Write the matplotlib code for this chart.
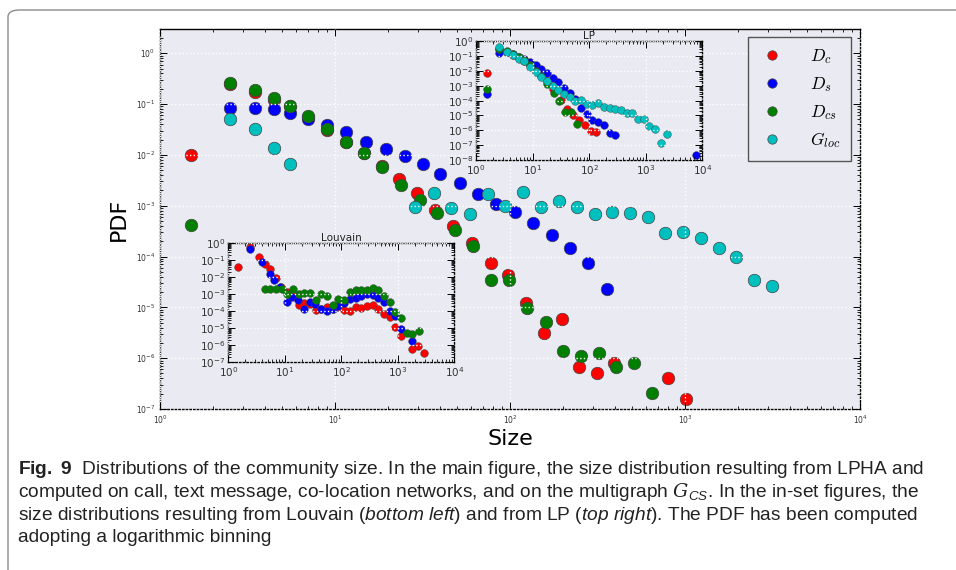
import matplotlib
matplotlib.use("Agg")
import matplotlib.pyplot as plt
from matplotlib.patches import FancyBboxPatch
from matplotlib.ticker import LogLocator

plt.rcParams['mathtext.fontset'] = 'custom'
plt.rcParams['mathtext.rm'] = 'Liberation Sans'
plt.rcParams['mathtext.it'] = 'Liberation Sans:italic'
plt.rcParams['mathtext.bf'] = 'Liberation Sans:bold'
plt.rcParams['mathtext.cal'] = 'DejaVu Serif:italic'

BG = '#eaeaf2'
COLORS = {'c': '#ff0000', 's': '#0000ff', 'cs': '#007f00', 'loc': '#00bfbf'}

# ---- main figure (LPHA) ----
main_c_x = [1.5, 2.5, 3.5, 4.5, 5.5, 7.0, 9.0, 11.6, 14.6, 18.6, 23.3, 29.6, 37.4, 47.4, 60.6,
            77.6, 97, 123, 156, 197, 249, 313, 395, 795, 1008]
main_c_y = [0.0098, 0.25, 0.17, 0.12, 0.09, 0.055, 0.031, 0.018, 0.011, 0.0061, 0.0033, 0.0018,
            0.00083, 0.00039, 1.85e-4, 7.4e-5, 4.4e-5, 1.2e-5, 3.1e-6, 5.8e-6, 6.6e-7, 5.2e-7,
            8.2e-7, 4.1e-7, 1.6e-7]

main_s_x = [2.5, 3.5, 4.5, 5.5, 7.0, 9.0, 11.6, 15, 19.5, 25, 31.8, 40, 51.8, 65.6, 83, 107,
            136, 173, 220, 280, 357]
main_s_y = [0.082, 0.083, 0.079, 0.068, 0.052, 0.038, 0.028, 0.018, 0.013, 0.0094, 0.0067,
            0.0043, 0.0028, 0.0017, 0.0011, 0.00074, 0.00045, 0.00026, 0.00015, 7.6e-5, 2.3e-5]

main_cs_x = [1.5, 2.5, 3.5, 4.5, 5.5, 7.0, 9.0, 11.6, 14.6, 18.6, 23.7, 30.6, 38.4, 48.5, 61.7,
             77.6, 99, 125, 160, 201, 255, 321, 405, 513, 646]
main_cs_y = [4.2e-4, 0.26, 0.19, 0.13, 0.091, 0.057, 0.033, 0.018, 0.011, 0.0059, 0.0026, 0.0013,
             0.00071, 0.00033, 1.6e-4, 3.4e-5, 3.5e-5, 9.5e-6, 5.2e-6, 1.38e-6, 1.1e-6, 1.26e-6,
             6.8e-7, 8.0e-7, 2.1e-7]

main_loc_x = [2.5, 3.5, 4.5, 5.5, 28.6, 36.6, 46, 59, 74.6, 94, 119, 150, 190, 240, 305, 384,
              485, 612, 772, 975, 1230, 1560, 1965, 2480, 3130]
main_loc_y = [0.052, 0.033, 0.0134, 0.0065, 0.00093, 0.0018, 0.00089, 0.00069, 0.0017, 0.001,
              0.0019, 0.00093, 0.00126, 0.00093, 0.00069, 0.00076, 0.00073, 0.0006, 0.00029,
              0.0003, 0.00023, 0.000144, 1.0e-4, 3.4e-5, 2.6e-5]

# ---- Louvain inset ----
lv_c_x = [1.48, 2.45, 3.49, 4.46, 5.46, 6.98, 8.4, 10.9, 14, 17.6, 22, 27.5, 35, 43.7, 55.7, 70,
          88.5, 111, 140, 180, 226, 285, 359, 452, 569, 716, 903, 1137, 1806, 2275, 2905]
lv_c_y = [0.042, 0.58, 0.15, 0.063, 0.031, 0.0095, 0.0028, 0.0014, 0.001, 2.3e-4, 3.0e-4, 2.6e-4,
          1.2e-4, 1.35e-4, 1.85e-4, 1.4e-4, 1.85e-4, 1.2e-4, 1.07e-4, 1.85e-4, 1.55e-4, 2.1e-4,
          2.3e-4, 1.4e-4, 7.1e-5, 4.4e-5, 1.2e-5, 3.5e-6, 5.6e-7, 8.9e-7, 3.4e-7]

lv_s_x = [2.45, 3.94, 5.4, 6.5, 8.3, 10.8, 13.4, 17.1, 22, 27.5, 34.7, 44, 55.7, 70, 88.5, 111,
          140, 180, 226, 285, 359, 452, 569, 716, 903, 1137, 1806]
lv_s_y = [0.44, 0.083, 0.015, 0.0069, 0.0028, 3.6e-4, 7.2e-4, 4.4e-4, 1.4e-4, 3.6e-4, 2.5e-4,
          1.35e-4, 1.07e-4, 1.35e-4, 1.95e-4, 3.2e-4, 5.0e-4, 6.3e-4, 7.5e-4, 1.0e-3, 9.0e-4,
          6.3e-4, 3.5e-4, 9.8e-5, 5.5e-5, 8.5e-6, 1.75e-6]

lv_cs_x = [4.46, 5.46, 6.98, 8.8, 10.9, 14, 17.6, 22, 27.8, 35, 44, 55.7, 70, 89, 111, 140, 180,
           226, 285, 359, 452, 569, 716, 903, 1137, 1453, 1818, 2340]
lv_cs_y = [1.95e-3, 1.95e-3, 1.95e-3, 1.95e-3, 1.0e-3, 1.95e-3, 1.0e-3, 1.23e-3, 1.2e-3, 4.6e-4,
           1.0e-3, 7.5e-4, 2.3e-4, 5.2e-4, 4.6e-4, 1.35e-3, 1.8e-3, 1.7e-3, 1.8e-3, 2.2e-3, 1.8e-3,
           7.9e-4, 3.6e-4, 8.5e-5, 4.2e-5, 5.4e-6, 4.3e-6, 7.1e-6]

# ---- LP inset ----
lp_c_x = [1.54, 2.5, 3.5, 4.5, 5.7, 7.1, 9.0, 11.3, 14.3, 18, 23, 32, 40.6, 52.5, 66, 83, 106, 134]
lp_c_y = [0.0077, 0.30, 0.2, 0.12, 0.08, 0.045, 0.025, 0.012, 0.005, 0.002, 0.0006, 1.1e-4,
          2.9e-5, 1.07e-5, 5.0e-6, 2.4e-6, 9.5e-7, 7.4e-7]

lp_s_x = [1.54, 2.5, 3.5, 4.5, 5.7, 7.1, 9.0, 11.3, 14.3, 18, 22.6, 28.5, 36, 45, 57, 72, 90,
          114, 143, 180, 230, 290, 7620]
lp_s_y = [2.7e-4, 0.17, 0.19, 0.13, 0.09, 0.068, 0.038, 0.025, 0.0135, 0.0069, 0.0035, 0.0017,
          7.1e-4, 3.1e-4, 1.3e-4, 3.2e-5, 1.2e-5, 5.2e-6, 3.8e-6, 2.3e-6, 6.3e-7, 4.9e-7, 2.3e-8]

lp_cs_x = [1.54, 2.5, 3.5, 4.5, 5.7, 7.1, 9.0, 11.3, 14.3, 18, 23.9, 29.7, 37.9, 48.4, 60.2]
lp_cs_y = [6.1e-4, 0.29, 0.22, 0.14, 0.09, 0.055, 0.025, 0.01, 0.0045, 0.0014, 3.3e-4, 9.1e-5,
           1.8e-5, 1.6e-5, 2.8e-6]

lp_loc_x = [2.5, 3.5, 4.5, 5.7, 7.1, 9.0, 11.3, 14.3, 18, 22.6, 28.5, 36, 45, 57, 72, 90, 114,
            143, 180, 230, 290, 365, 460, 580, 730, 920, 1156, 1457, 1835, 2340]
lp_loc_y = [0.44, 0.2, 0.126, 0.068, 0.045, 0.019, 0.009, 0.0042, 0.002, 0.001, 5.5e-4, 2.7e-4,
            1.7e-4, 9.5e-5, 1.1e-4, 6.3e-5, 4.9e-5, 6.9e-5, 3.7e-5, 3.2e-5, 2.9e-5, 2.2e-5,
            1.55e-5, 1.55e-5, 6.1e-6, 6.1e-6, 1.95e-6, 1.17e-6, 1.5e-7, 6.0e-7]

labels = [r'$D_c$', r'$D_s$', r'$D_{cs}$', r'$G_{loc}$']


def style_axes(ax, labelsize, dotted_top=True):
    ax.set_facecolor(BG)
    ax.set_xscale('log')
    ax.set_yscale('log')
    ax.set_axisbelow(False)
    ax.grid(True, which='major', color='white', linestyle=':', linewidth=1.0)
    ax.tick_params(which='both', direction='in', top=True, right=True, colors='black',
                   labelcolor='#333333', labelsize=labelsize)
    ax.tick_params(which='major', length=5, width=0.7)
    ax.tick_params(which='minor', length=2.5, width=0.6)
    for a in (ax.xaxis, ax.yaxis):
        a.set_major_locator(LogLocator(base=10, numticks=20))
        a.set_minor_locator(LogLocator(base=10, subs=range(2, 10), numticks=20))
    for name, sp in ax.spines.items():
        sp.set_color('black')
        sp.set_linewidth(1.0)
        if dotted_top or name != 'top':
            sp.set_linestyle(':')


fig = plt.figure(figsize=(9.56, 5.70), dpi=100)

# caption box border
fig.patches.append(FancyBboxPatch((8 / 956, -0.05), 1.05, 1 - 10 / 570 + 0.05,
                                  boxstyle='round,pad=0,rounding_size=0.012',
                                  transform=fig.transFigure, facecolor='white',
                                  edgecolor='#8a8a8a', linewidth=1.0, zorder=-5))

ax = fig.add_axes([160 / 956, 1 - 409 / 570, 700 / 956, 380 / 570])
style_axes(ax, 5.5, dotted_top=False)
ms = 9.0
for xs, ys, key, lab in [(main_c_x, main_c_y, 'c', labels[0]), (main_s_x, main_s_y, 's', labels[1]),
                         (main_cs_x, main_cs_y, 'cs', labels[2]), (main_loc_x, main_loc_y, 'loc', labels[3])]:
    ax.plot(xs, ys, 'o', color=COLORS[key], markersize=ms, markeredgecolor='#444444',
            markeredgewidth=0.5, label=lab)
ax.set_xlim(1, 1e4)
ax.set_ylim(1e-7, 3.0)
ax.set_xlabel('Size', fontsize=16, labelpad=2)
ax.set_ylabel('PDF', fontsize=16, labelpad=5)
leg = ax.legend(loc='upper right', bbox_to_anchor=(0.987, 0.979), borderaxespad=0,
                markerscale=0.75, numpoints=1, fancybox=False, framealpha=1, facecolor=BG,
                edgecolor='#555555', prop={'size': 12.5, 'math_fontfamily': 'cm'},
                labelspacing=0.5, handlelength=1.6, handletextpad=1.4, borderpad=0.6)
leg.get_frame().set_linewidth(1.0)

# Louvain inset
ax_lv = fig.add_axes([228.3 / 956, 1 - 362 / 570, 226 / 956, 118.7 / 570])
style_axes(ax_lv, 7.5)
ms2 = 5.6
for xs, ys, key in [(lv_c_x, lv_c_y, 'c'), (lv_s_x, lv_s_y, 's'), (lv_cs_x, lv_cs_y, 'cs')]:
    ax_lv.plot(xs, ys, 'o', color=COLORS[key], markersize=ms2, markeredgecolor='#444444',
               markeredgewidth=0.3)
ax_lv.set_xlim(1, 1e4)
ax_lv.set_ylim(1e-7, 1)
ax_lv.set_title('Louvain', fontsize=7.5, pad=2, color='#222222')

# LP inset
ax_lp = fig.add_axes([476 / 956, 1 - 160 / 570, 226.3 / 956, 118.7 / 570])
style_axes(ax_lp, 7.5)
for xs, ys, key in [(lp_c_x, lp_c_y, 'c'), (lp_s_x, lp_s_y, 's'), (lp_cs_x, lp_cs_y, 'cs'),
                    (lp_loc_x, lp_loc_y, 'loc')]:
    ax_lp.plot(xs, ys, 'o', color=COLORS[key], markersize=ms2, markeredgecolor='#444444',
               markeredgewidth=0.3)
ax_lp.set_xlim(1, 1e4)
ax_lp.set_ylim(1e-8, 1)
ax_lp.set_title('LP', fontsize=7.5, pad=1, color='#222222')
for a in (ax_lv, ax_lp):
    a.tick_params(labelsize=7.5, pad=2)

# caption
caption = [
    r'$\bf{Fig.\ 9}$  Distributions of the community size. In the main figure, the size distribution resulting from LPHA and',
    r'computed on call, text message, co-location networks, and on the multigraph $\mathcal{G}_{CS}$. In the in-set figures, the',
    r'size distributions resulting from Louvain ($\it{bottom\ left}$) and from LP ($\it{top\ right}$). The PDF has been computed',
    'adopting a logarithmic binning',
]
cap_y = [469, 492, 515, 538]
texts = []
for line, yy in zip(caption, cap_y):
    texts.append(fig.text(18 / 956, 1 - yy / 570, line, fontsize=12.5, va='center', ha='left',
                          family=['Liberation Sans', 'DejaVu Sans'], color='#222222',
                          math_fontfamily='custom'))
# shrink caption so the first line spans the same width as in the print
renderer = fig.canvas.get_renderer()
w = texts[0].get_window_extent(renderer).width
size = 12.5 * 908 / w
for t in texts:
    t.set_fontsize(size)

fig.savefig('out.png', dpi=100)
